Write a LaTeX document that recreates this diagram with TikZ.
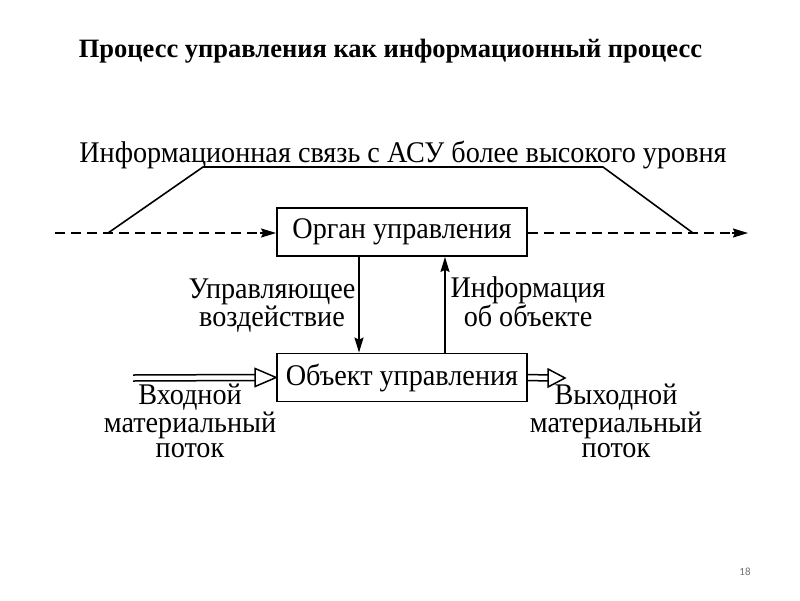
\documentclass[tikz,border=0pt]{standalone}
\usepackage{fontspec}
\setmainfont{Liberation Serif}
\newfontfamily\numfont{Carlito}
\usetikzlibrary{arrows.meta}
\newcommand{\sq}[1]{\scalebox{0.94}[1]{#1}}
\tikzset{
  x=1pt,y=-1pt,
  boxnode/.style={draw,line width=1.8pt,minimum width=250pt,minimum height=48pt,inner sep=0pt,font=\fontsize{30}{25}\selectfont},
  lbl/.style={font=\fontsize{30}{25}\selectfont,align=center,inner sep=0pt,anchor=base},
  conn/.style={line width=1.6pt},
  arr/.style={conn,-{Stealth[length=15pt,width=9pt,inset=2pt]}},
  dashline/.style={conn,dash pattern=on 10pt off 6pt},
  dbl/.style={line width=1.5pt},
  openhead/.style={line width=1.5pt,fill=white,line join=miter},
}
\begin{document}
\begin{tikzpicture}
\useasboundingbox (0,0) rectangle (800,600);
\fill[white] (0,0) rectangle (800,600);
% title
\node[inner sep=0pt,anchor=base] (title) at (390.5,57) {\fontsize{26.5}{26.5}\bfseries\selectfont Процесс управления как информационный процесс};
% top label
\node[lbl] (top) at (403,162) {\sq{Информационная связь с АСУ более высокого уровня}};
% boxes
\node[boxnode] (organ) at (402,232) {\sq{Орган управления}};
\node[boxnode] (obj) at (402,377.5) {\sq{Объект управления}};
% coordinates
\coordinate (dl) at (55,233);
\coordinate (dr) at (748,233);
\coordinate (sl) at (108,233);
\coordinate (tl) at (203,167);
\coordinate (tr) at (603,167);
\coordinate (sr) at (693,233);
\coordinate (inl) at (133,378);
\coordinate (outr) at (565,378);
% dashed lines
\draw[dashline] (dl) -- ([xshift=-8pt]organ.west |- dl);
\draw[arr] ([xshift=-16pt]organ.west |- dl) -- (organ.west |- dl);
\draw[dashline] (organ.east |- dr) -- ([xshift=-12pt]dr);
\draw[arr] ([xshift=-16pt]dr) -- (dr);
% slanted link
\draw[conn,line join=miter] (sl) -- (tl) -- (tr) -- (sr);
% vertical arrows
\draw[arr] (organ.south -| 359,0) -- (obj.north -| 359,0);
\draw[arr] (obj.north -| 445,0) -- (organ.south -| 445,0);
% labels (base = last line)
\node[lbl] (upr) at (272,326) {\sq{Управляющее}\\\sq{воздействие}};
\node[lbl] (inf) at (528,326) {\sq{Информация}\\\sq{об объекте}};
% double arrows (input)
\draw[dbl] ([yshift=3pt]inl) -- ([xshift=-20pt,yshift=3pt]obj.west);
\draw[dbl] ([yshift=-3pt]inl) -- ([xshift=-20pt,yshift=-3pt]obj.west);
\draw[openhead] ([xshift=-21pt,yshift=-9pt]obj.west) -- (obj.west) -- ([xshift=-21pt,yshift=9pt]obj.west) -- cycle;
% output
\draw[dbl] ([yshift=-3pt]obj.east) -- ([xshift=-16pt,yshift=-3pt]outr);
\draw[dbl] ([yshift=3pt]obj.east) -- ([xshift=-16pt,yshift=3pt]outr);
\draw[openhead] ([xshift=-17pt,yshift=-9pt]outr) -- (outr) -- ([xshift=-17pt,yshift=9pt]outr) -- cycle;
\node[lbl] (inlbl) at (190,457) {\sq{Входной}\\\sq{материальный}\\\sq{поток}};
\node[lbl] (outlbl) at (616,457) {\sq{Выходной}\\\sq{материальный}\\\sq{поток}};
% page number
\node[font=\numfont\fontsize{11}{11}\selectfont,text=black!55] (pg) at (745,572) {18};
\end{tikzpicture}
\end{document}
